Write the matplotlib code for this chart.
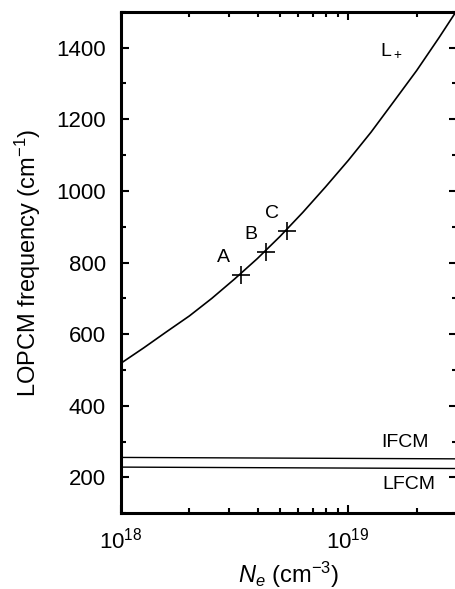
import numpy as np
import matplotlib
matplotlib.use("Agg")
import matplotlib.pyplot as plt
from matplotlib.ticker import LogLocator, MultipleLocator, NullFormatter

plt.rcParams['font.family'] = ['Liberation Sans', 'DejaVu Sans']
plt.rcParams['mathtext.fontset'] = 'custom'
plt.rcParams['mathtext.rm'] = 'Liberation Sans'
plt.rcParams['mathtext.it'] = 'Liberation Sans:italic'

# L+ branch (Ne in cm^-3, frequency in cm^-1)
ne_lplus = [1.0e18, 1.26e18, 1.58e18, 2.0e18, 2.51e18, 3.16e18, 3.98e18,
            5.01e18, 6.31e18, 7.94e18, 1.0e19, 1.26e19, 1.58e19, 2.0e19,
            2.51e19, 3.16e19]
freq_lplus = [519, 562, 606, 651, 700, 754, 811,
              873, 940, 1011, 1085, 1164, 1248, 1336,
              1428, 1525]

# marked samples
sample_names = ['A', 'B', 'C']
sample_ne = [3.37e18, 4.34e18, 5.37e18]
sample_freq = [766, 829, 889]
label_ne = [2.81e18, 3.73e18, 4.63e18]
label_freq = [815, 877, 937]

# flat coupled modes
flat_ne = [1.0e18, 3.1e19]
ifcm_freq = [256, 252]
lfcm_freq = [229, 225]

fig = plt.figure(figsize=(4.55, 5.89), dpi=100)
ax = fig.add_axes([0.2659, 0.1285, 0.7378, 0.8515])

ax.plot(ne_lplus, freq_lplus, color='black', lw=1.2)
ax.plot(flat_ne, ifcm_freq, color='black', lw=1.0)
ax.plot(flat_ne, lfcm_freq, color='black', lw=1.0)
ax.plot(sample_ne, sample_freq, ls='none', marker='+', ms=13, mew=1.2, color='black')

# labels on the chart
fs_in = 14
for name, x, y in zip(sample_names, label_ne, label_freq):
    ax.text(x, y, name, fontsize=fs_in, ha='center', va='center')
ax.text(1.55e19, 1392, 'L$_+$', fontsize=fs_in, ha='center', va='center')
ax.text(1.77e19, 298, 'IFCM', fontsize=fs_in, ha='center', va='center')
ax.text(1.84e19, 180, 'LFCM', fontsize=fs_in, ha='center', va='center')

ax.set_xscale('log')
ax.set_xlim(1e18, 3e19)
ax.set_ylim(100, 1500)

ax.xaxis.set_major_locator(LogLocator(base=10, numticks=10))
ax.xaxis.set_minor_locator(LogLocator(base=10, subs=np.arange(2, 10), numticks=20))
ax.xaxis.set_minor_formatter(NullFormatter())
ax.yaxis.set_major_locator(MultipleLocator(200))
ax.yaxis.set_minor_locator(MultipleLocator(100))

ax.tick_params(which='both', direction='in', top=True, right=True,
               labelsize=16, width=1.5)
ax.tick_params(which='major', length=6)
ax.tick_params(which='minor', length=3.5)
ax.tick_params(axis='y', pad=11)
ax.tick_params(axis='x', pad=10)
for sp in ax.spines.values():
    sp.set_linewidth(2.2)

ax.set_ylabel('LOPCM frequency (cm$^{-1}$)', fontsize=17)
ax.set_xlabel('$N_e$ (cm$^{-3}$)', fontsize=17)
ax.yaxis.set_label_coords(-0.232, 0.5)
ax.xaxis.set_label_coords(0.5, -0.093)

fig.savefig('out.png', dpi=100)
